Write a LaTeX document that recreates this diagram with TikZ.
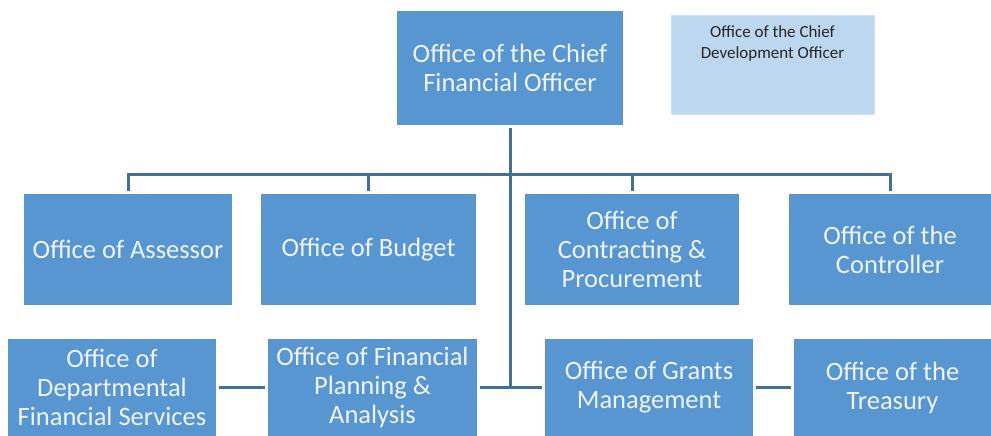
\documentclass[tikz,border=0pt]{standalone}
\usepackage{fontspec}
\setmainfont{Carlito}
\usepackage{tikz}
\usetikzlibrary{positioning}

\definecolor{boxblue}{HTML}{5896D2}
\definecolor{paleblue}{HTML}{BDD7EE}
\definecolor{linkblue}{HTML}{41709C}
\definecolor{boxtext}{HTML}{EEF4FB}

\tikzset{
  office/.style={fill=boxblue, text=boxtext, align=center, inner sep=0pt, outer sep=3pt,
    font=\fontsize{26.5}{29}\selectfont},
  link/.style={draw=linkblue, line width=3pt}
}

\begin{document}
\begin{tikzpicture}[x=1pt,y=-1pt]
    \useasboundingbox (0,0) rectangle (991,436);
    % Top: chief financial officer and the development office beside it
    \node[office, minimum width=226pt, minimum height=114pt] (cfo) at (510,68) {Office of the Chief\\Financial Officer};
    \node[fill=paleblue, draw=paleblue!70!white, line width=1pt, minimum width=203pt, minimum height=98pt] (cdo) at (772.5,65) {};
    \node[below=10pt of cdo.north, inner sep=0pt, align=center, text=black!85,
      font=\fontsize{17}{21}\selectfont] (cdotext) {Office of the Chief\\Development Officer};
    % Second row of offices
    \foreach \nm/\x/\w/\txt in {assessor/128/208/{Office of Assessor}, budget/368.5/215/{Office of Budget},
      contract/632/214/{Office of\\Contracting \&\\Procurement}, controller/890/202/{Office of the\\Controller}}{
      \node[office, minimum width=\w pt, minimum height=111pt] (\nm) at (\x,249.5) {\txt};
    }
    % Third row of offices
    \foreach \nm/\x/\w/\txt in {dept/112/208/{Office of\\Departmental\\Financial Services},
      plan/372.5/209/{Office of Financial\\Planning \&\\Analysis}, grants/649/208/{Office of Grants\\Management},
      treasury/892.5/197/{Office of the\\Treasury}}{
      \node[office, minimum width=\w pt, minimum height=97pt] (\nm) at (\x,387.5) {\txt};
    }
    % Connectors
    \coordinate (hub) at (cfo.south |- 0,174);
    \coordinate (foot) at (cfo.south |- plan.east);
    \draw[link] (cfo.south) -- (foot);
    \draw[link] (assessor.north) |- (hub) -| (controller.north);
    \draw[link] (budget.north) -- (budget.north |- hub);
    \draw[link] (contract.north) -- (contract.north |- hub);
    \draw[link] (plan.east) -- (grants.west);
    \draw[link] (dept) -- (plan);
    \draw[link] (grants) -- (treasury);
  \end{tikzpicture}
\end{document}
